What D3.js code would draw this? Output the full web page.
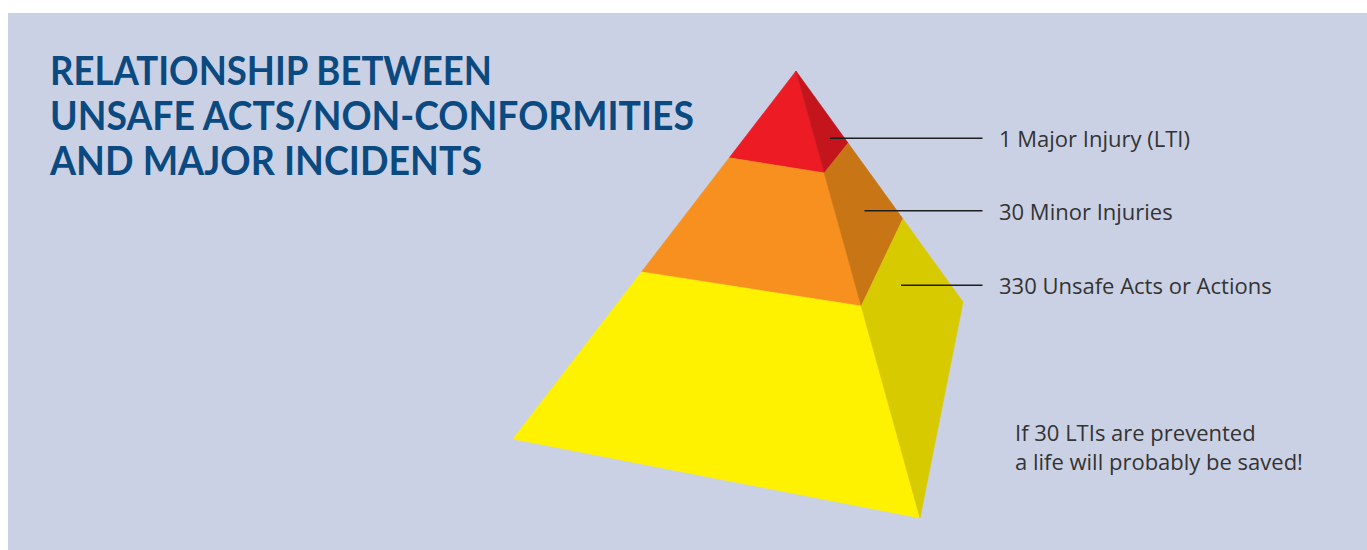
<!DOCTYPE html>
<html>
<head>
<meta charset="utf-8">
<script src="https://cdn.jsdelivr.net/npm/d3@7"></script>
<style>
  html, body { margin: 0; padding: 0; background: #ffffff; }
  svg { display: block; }
</style>
</head>
<body>
<svg id="chart" width="1367" height="550"></svg>
<script>
// ---------------- data ----------------
const titleLines = ["RELATIONSHIP BETWEEN", "UNSAFE ACTS/NON-CONFORMITIES", "AND MAJOR INCIDENTS"];
const tierLabels = ["1 Major Injury (LTI)", "30 Minor Injuries", "330 Unsafe Acts or Actions"];
const tierCounts = [1, 30, 330];
const frontColors = ["#ed1c24", "#f7901e", "#fff200"];
const sideColors = ["#c4141c", "#c87516", "#d8ca00"];
const noteLines = ["If 30 LTIs are prevented", "a life will probably be saved!"];

// tier boundaries as fraction of each pyramid edge (apex = 0, base = 1)
const leftEdgeStops = [0.236, 0.546, 1];
const frontEdgeStops = [0.228, 0.526, 1];
const rightEdgeStops = [0.312, 0.640, 1];

// ---------------- layout ----------------
const W = 1367, H = 550;
const svg = d3.select("#chart");
const bg = "#cbd1e4";
svg.append("rect").attr("x", 8).attr("y", 13).attr("width", W - 8).attr("height", H - 13).attr("fill", bg);

// pyramid geometry (projected vertices)
const apex = [796, 71];
const baseLeft = [513, 439];
const baseFront = [920, 518];
const baseRight = [963, 302];

function edge(a, b) {
  const ix = d3.interpolateNumber(a[0], b[0]);
  const iy = d3.interpolateNumber(a[1], b[1]);
  return t => [ix(t), iy(t)];
}
const leftEdge = edge(apex, baseLeft);
const frontEdge = edge(apex, baseFront);
const rightEdge = edge(apex, baseRight);

const line = d3.line();
const pyr = svg.append("g");

tierCounts.forEach((c, i) => {
  const t0L = i === 0 ? 0 : leftEdgeStops[i - 1];
  const t0F = i === 0 ? 0 : frontEdgeStops[i - 1];
  const t0R = i === 0 ? 0 : rightEdgeStops[i - 1];
  const t1L = leftEdgeStops[i], t1F = frontEdgeStops[i], t1R = rightEdgeStops[i];
  const front = [leftEdge(t0L), frontEdge(t0F), frontEdge(t1F), leftEdge(t1L)];
  const side = [frontEdge(t0F), rightEdge(t0R), rightEdge(t1R), frontEdge(t1F)];
  pyr.append("path").attr("d", line(front) + "Z").attr("fill", frontColors[i])
    .attr("stroke", frontColors[i]).attr("stroke-width", 0.6).attr("stroke-linejoin", "round");
  pyr.append("path").attr("d", line(side) + "Z").attr("fill", sideColors[i])
    .attr("stroke", sideColors[i]).attr("stroke-width", 0.6).attr("stroke-linejoin", "round");
});

// leader lines & labels
const leaderY = [138.3, 210.7, 285.3];
const leaderX0 = [830, 864.5, 901];
const leaderX1 = 982.5;
const labelX = 999;

tierLabels.forEach((lab, i) => {
  svg.append("line")
    .attr("x1", leaderX0[i]).attr("x2", leaderX1)
    .attr("y1", leaderY[i]).attr("y2", leaderY[i])
    .attr("stroke", "#1e1e1e").attr("stroke-width", 1.6);
  svg.append("text")
    .attr("x", labelX).attr("y", leaderY[i] + 9)
    .attr("font-family", "'Open Sans', 'Noto Sans', sans-serif")
    .attr("font-size", 22)
    .attr("fill", "#333333")
    .text(lab);
});

// note
noteLines.forEach((t, i) => {
  svg.append("text")
    .attr("x", 1015).attr("y", 441 + i * 29)
    .attr("font-family", "'Open Sans', 'Noto Sans', sans-serif")
    .attr("font-size", 22)
    .attr("fill", "#333333")
    .text(t);
});

// title
const titleWidths = [442, 644, 432];
titleLines.forEach((t, i) => {
  svg.append("text")
    .attr("x", 50).attr("y", 85 + i * 45)
    .attr("font-family", "Lato, 'Open Sans', sans-serif")
    .attr("font-weight", 700)
    .attr("font-size", 40)
    .attr("fill", "#0b4a80")
    .attr("textLength", titleWidths[i])
    .attr("lengthAdjust", "spacingAndGlyphs")
    .text(t);
});
</script>
</body>
</html>
